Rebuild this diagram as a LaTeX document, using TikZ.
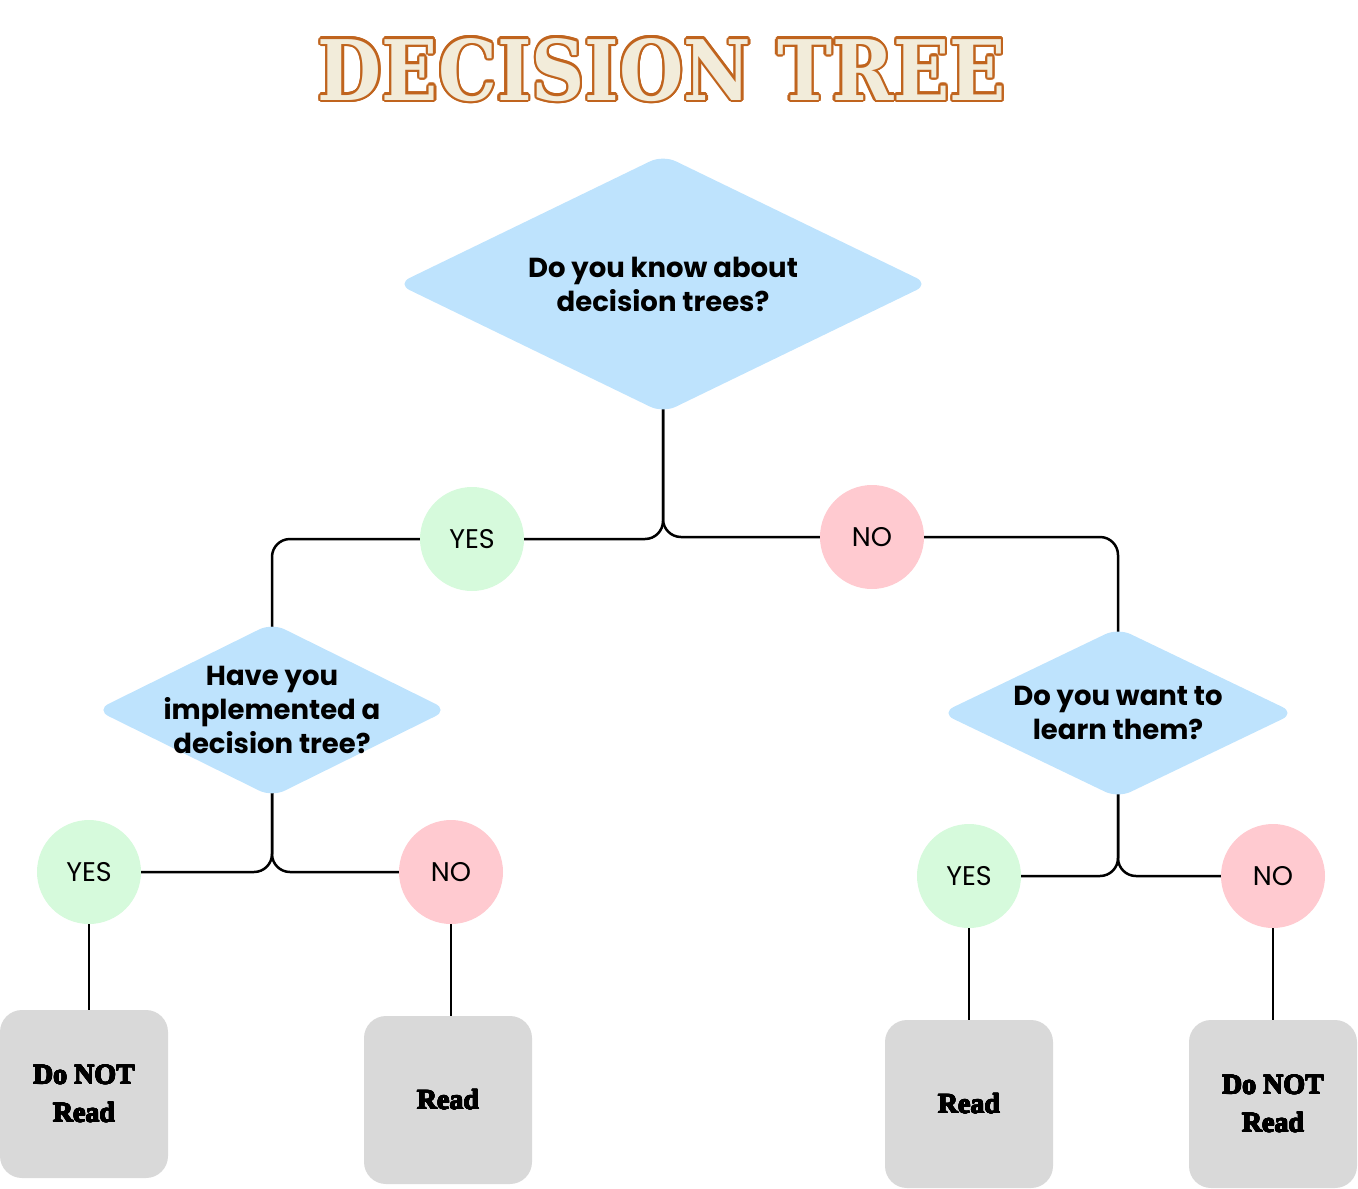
\documentclass[tikz,border=0pt]{standalone}
\usepackage{fontspec}
\usepackage{contour}
\usetikzlibrary{shapes.geometric,backgrounds}
\setmainfont{Poppins}
\newfontfamily\titlefont{DejaVu Serif}
\newfontfamily\boxfont{Liberation Serif}
\definecolor{dblue}{RGB}{190,227,253}
\definecolor{ygreen}{RGB}{214,250,220}
\definecolor{npink}{RGB}{255,202,208}
\definecolor{rgray}{RGB}{217,217,217}
\definecolor{tcream}{RGB}{242,236,218}
\definecolor{tbrown}{RGB}{192,100,30}
\newcommand{\heavytext}[1]{{\contourlength{0.45pt}\contour{black}{#1}}}
\tikzset{
  qbox/.style={diamond, fill=dblue, draw=none, rounded corners=14pt, inner sep=0pt},
  qtext/.style={align=center, inner sep=0pt, font=\bfseries\fontsize{27.5}{34}\selectfont},
  yesc/.style={circle, fill=ygreen, minimum size=104pt, inner sep=0pt, font=\fontsize{27}{30}\selectfont},
  noc/.style={circle, fill=npink, minimum size=104pt, inner sep=0pt, font=\fontsize{27}{30}\selectfont},
  res/.style={rectangle, rounded corners=22pt, fill=rgray, minimum width=168pt, minimum height=168pt,
    inner sep=0pt, align=center, font=\boxfont\bfseries\fontsize{28}{38}\selectfont},
  link/.style={line width=2.5pt, rounded corners=18pt}
}
\begin{document}
\begin{tikzpicture}[x=1pt,y=-1pt]
\useasboundingbox (0,0) rectangle (1358,1189);
\node[inner sep=0pt] (title) at (662,71) {\resizebox{688pt}{62pt}{\titlefont\bfseries\contourlength{0.3pt}\contour{tbrown}{\textcolor{tcream}{DECISION TREE}}}};

\node[qbox, minimum width=532pt, minimum height=258pt,
  label={[qtext]center:Do you know about\\decision trees?}] (d1) at (663,284) {};
\node[qbox, minimum width=352pt, minimum height=174pt,
  label={[qtext]center:Have you\\implemented a\\decision tree?}] (d2) at (272,710) {};
\node[qbox, minimum width=354pt, minimum height=170pt,
  label={[qtext]center:Do you want to\\learn them?}] (d3) at (1118,713) {};

\node[yesc] (y1) at (472,539) {YES};
\node[noc] (n1) at (872,537) {NO};
\node[yesc] (y2) at (89,872) {YES};
\node[noc] (n2) at (451,872) {NO};
\node[yesc] (y3) at (969,876) {YES};
\node[noc] (n3) at (1273,876) {NO};

\node[res] (b1) at (84,1094) {\heavytext{Do NOT}\\\heavytext{Read}};
\node[res] (b2) at (448,1100) {\heavytext{Read}};
\node[res] (b3) at (969,1104) {\heavytext{Read}};
\node[res] (b4) at (1273,1104) {\heavytext{Do NOT}\\\heavytext{Read}};

\begin{scope}[on background layer]
\draw[link] (d1.center) |- (y1.east);
\draw[link] (d1.center) |- (n1.west);
\draw[link] (y1.west) -| (d2.center);
\draw[link] (n1.east) -| (d3.center);
\draw[link] (d2.center) |- (y2.east);
\draw[link] (d2.center) |- (n2.west);
\draw[link] (d3.center) |- (y3.east);
\draw[link] (d3.center) |- (n3.west);
\draw[link] (y2.center) -- (y2.center |- b1.center);
\draw[link] (n2.center) -- (n2.center |- b2.center);
\draw[link] (y3.center) -- (y3.center |- b3.center);
\draw[link] (n3.center) -- (n3.center |- b4.center);
\end{scope}
\end{tikzpicture}
\end{document}
